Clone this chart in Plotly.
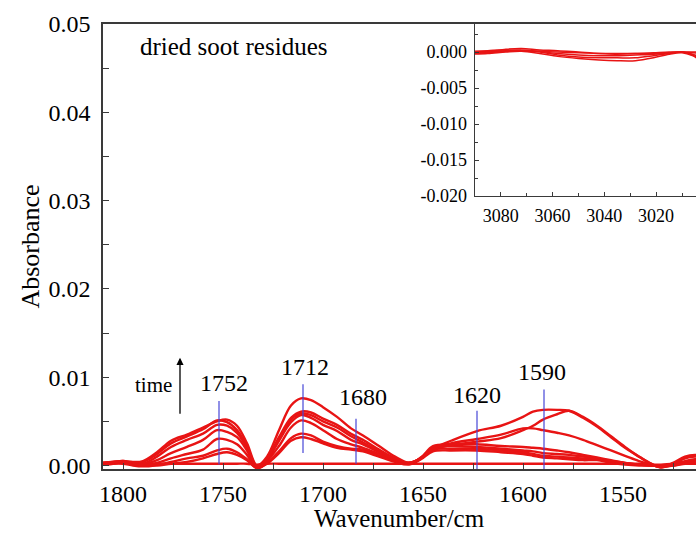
import plotly.graph_objects as go

# ---------------- data (absorbance in units of 1e-3) ----------------
wavenumber = [1812, 1805, 1800, 1795, 1790, 1783, 1776, 1768, 1760, 1753, 1748, 1743, 1738, 1733, 1728,
              1722, 1716, 1711, 1706, 1700, 1693, 1686, 1680, 1672, 1664, 1657, 1651, 1645, 1636, 1623,
              1611, 1600, 1595, 1590, 1583, 1577, 1570, 1563, 1556, 1549, 1542, 1536, 1531, 1525, 1519,
              1514, 1508]

spec_0 = [0.2, 0.3, 0.3, 0.2, 0.2, 0.2, 0.2, 0.2, 0.2, 0.2, 0.2, 0.2, 0.2, 0.1, 0.2,
          0.2, 0.2, 0.2, 0.2, 0.2, 0.2, 0.2, 0.2, 0.2, 0.2, 0.2, 0.2, 0.2, 0.2, 0.2,
          0.2, 0.2, 0.2, 0.2, 0.2, 0.2, 0.2, 0.2, 0.2, 0.2, 0.2, 0.1, 0.1, 0.2, 0.2,
          0.2, 0.2]
spec_1 = [0.0, 0.2, 0.2, 0.0, -0.1, 0.0, 0.2, 0.4, 0.8, 1.3, 1.5, 1.2, 0.6, -0.3, 0.2,
          1.4, 2.8, 3.2, 3.0, 2.5, 2.0, 1.8, 1.6, 1.0, 0.4, 0.1, 0.7, 1.6, 1.7, 1.7,
          1.5, 1.3, 1.1, 0.9, 0.8, 0.7, 0.6, 0.6, 0.3, 0.1, 0.0, 0.0, 0.0, 0.0, 0.2,
          0.3, 0.3]
spec_2 = [0.1, 0.2, 0.3, 0.1, 0.0, 0.1, 0.4, 0.8, 1.1, 1.7, 1.9, 1.5, 0.7, -0.3, 0.3,
          1.6, 3.1, 3.6, 3.4, 2.7, 2.2, 1.9, 1.8, 1.1, 0.5, 0.2, 0.8, 1.8, 1.9, 1.9,
          1.7, 1.5, 1.3, 1.1, 1.0, 0.9, 0.8, 0.7, 0.4, 0.2, 0.1, 0.0, 0.0, 0.0, 0.3,
          0.4, 0.4]
spec_3 = [0.1, 0.3, 0.3, 0.1, 0.0, 0.3, 0.8, 1.3, 1.8, 3.0, 2.9, 2.4, 1.2, -0.3, 0.5,
          2.2, 4.3, 5.1, 4.8, 4.0, 3.0, 2.4, 2.0, 1.3, 0.6, 0.2, 0.9, 2.0, 2.2, 2.1,
          1.9, 1.7, 1.6, 1.4, 1.3, 1.2, 1.0, 0.8, 0.5, 0.3, 0.1, 0.0, -0.1, 0.0, 0.4,
          0.6, 0.5]
spec_4 = [0.2, 0.3, 0.4, 0.2, 0.1, 0.6, 1.4, 2.1, 2.9, 4.0, 3.8, 3.2, 1.7, -0.2, 0.6,
          2.8, 4.9, 5.7, 5.4, 4.6, 3.9, 2.9, 2.4, 1.5, 0.7, 0.2, 0.9, 2.2, 2.4, 2.4,
          2.2, 2.1, 2.0, 1.9, 1.7, 1.5, 1.2, 0.9, 0.6, 0.3, 0.1, 0.0, -0.1, 0.1, 0.5,
          0.7, 0.6]
spec_5 = [0.2, 0.4, 0.4, 0.3, 0.2, 1.0, 2.1, 2.9, 3.6, 4.6, 4.5, 3.7, 2.0, -0.2, 0.7,
          3.0, 5.2, 5.9, 5.7, 5.0, 4.3, 3.3, 2.6, 1.6, 0.7, 0.3, 0.8, 1.9, 2.5, 3.0,
          3.5, 4.2, 4.2, 4.0, 3.7, 3.4, 2.9, 2.3, 1.7, 1.1, 0.5, 0.1, -0.2, 0.1, 0.8,
          1.0, 0.9]
spec_6 = [0.3, 0.4, 0.5, 0.3, 0.4, 1.3, 2.5, 3.3, 4.1, 5.1, 4.9, 4.0, 2.2, -0.1, 0.8,
          3.2, 5.4, 6.1, 6.0, 5.3, 4.6, 3.6, 2.9, 1.8, 0.8, 0.3, 0.8, 1.8, 2.3, 2.7,
          3.1, 4.0, 4.5, 5.2, 5.8, 6.2, 5.5, 4.5, 3.3, 2.1, 1.0, 0.2, -0.2, 0.2, 0.9,
          1.1, 1.0]
spec_7 = [0.3, 0.4, 0.5, 0.4, 0.5, 1.5, 2.8, 3.5, 4.3, 5.0, 5.2, 4.5, 2.5, 0.0, 1.0,
          4.0, 6.8, 7.6, 7.4, 6.6, 5.5, 4.2, 3.4, 2.2, 1.0, 0.3, 0.8, 1.9, 2.8, 3.9,
          4.5, 5.5, 6.1, 6.3, 6.3, 6.2, 5.4, 4.4, 3.2, 2.0, 1.0, 0.2, -0.2, 0.3, 1.0,
          1.2, 1.1]
spectra = [spec_0, spec_1, spec_2, spec_3, spec_4, spec_5, spec_6, spec_7]

# peak marker lines and labels
peak_labels = ["1752", "1712", "1680", "1620", "1590"]
peak_line_wn = [1752, 1710, 1683.5, 1623, 1589.5]
peak_line_top = [7.3, 9.2, 5.3, 6.2, 8.6]
peak_line_bottom = [0.1, 1.4, 0.2, -0.4, -0.4]
peak_label_wn = [1749.5, 1709, 1680, 1623, 1590.5]
peak_label_y = [9.3, 11.1, 7.7, 8.0, 10.6]

# inset (C-H region)
inset_wn = [3092, 3085, 3078, 3072, 3065, 3058, 3050, 3042, 3035, 3028, 3021, 3015, 3010, 3006, 3002]
inset_1 = [0.0, 0.1, 0.4, 0.5, 0.3, 0.2, 0.0, -0.2, -0.2, -0.2, -0.1, 0.0, 0.0, -0.1, -0.2]
inset_2 = [-0.1, 0.0, 0.2, 0.3, 0.1, -0.2, -0.4, -0.5, -0.5, -0.4, -0.3, -0.1, 0.0, -0.3, -0.8]
inset_3 = [-0.2, -0.1, 0.1, 0.2, 0.0, -0.4, -0.7, -0.8, -0.8, -0.8, -0.5, -0.2, 0.0, -0.4, -1.2]
inset_4 = [-0.3, -0.2, 0.0, 0.1, -0.2, -0.6, -0.9, -1.1, -1.2, -1.2, -0.8, -0.3, -0.1, -0.5, -1.4]
inset_5 = [0.1, 0.2, 0.3, 0.2, 0.1, 0.0, -0.1, -0.2, -0.3, -0.2, -0.2, -0.1, 0.0, 0.0, 0.0]
inset_series = [inset_1, inset_2, inset_3, inset_4, inset_5]

main_ytick_vals = [0.00, 0.01, 0.02, 0.03, 0.04, 0.05]
main_xtick_vals = [1800, 1750, 1700, 1650, 1600, 1550]
inset_ytick_vals = [0.000, -0.005, -0.010, -0.015, -0.020]
inset_ytick_text = ["0.000", "-0.005", "-0.010", "-0.015", "-0.020"]
inset_xtick_vals = [3080, 3060, 3040, 3020]

SCALE = 1e-3
FONT = "Liberation Serif, Times New Roman, serif"
RED = "rgb(232,20,20)"
BLUE = "rgb(70,70,215)"
AXC = "#3a3a3a"

fig = go.Figure()

for s in spectra:
    fig.add_trace(go.Scatter(x=wavenumber, y=[v * SCALE for v in s], mode="lines",
                             line=dict(color=RED, width=2.4, shape="spline", smoothing=1.0),
                             xaxis="x", yaxis="y", showlegend=False, hoverinfo="skip"))

for wn, top, bot in zip(peak_line_wn, peak_line_top, peak_line_bottom):
    fig.add_trace(go.Scatter(x=[wn, wn], y=[bot * SCALE, top * SCALE], mode="lines",
                             line=dict(color=BLUE, width=1.2),
                             xaxis="x", yaxis="y", showlegend=False, hoverinfo="skip"))

for s in inset_series:
    fig.add_trace(go.Scatter(x=inset_wn, y=[v * SCALE for v in s], mode="lines",
                             line=dict(color=RED, width=1.5, shape="spline", smoothing=0.9),
                             xaxis="x2", yaxis="y2", showlegend=False, hoverinfo="skip"))

annotations = []
for lab, x, y in zip(peak_labels, peak_label_wn, peak_label_y):
    annotations.append(dict(x=x, y=y * SCALE, xref="x", yref="y", text=lab, showarrow=False,
                            font=dict(family=FONT, size=24, color="black"),
                            xanchor="center", yanchor="middle"))
annotations.append(dict(x=1771.5, y=12.2 * SCALE, ax=1771.5, ay=5.7 * SCALE, xref="x", yref="y",
                        axref="x", ayref="y", text="", showarrow=True, arrowhead=2,
                        arrowsize=1.1, arrowwidth=1.3, arrowcolor="black"))
annotations.append(dict(x=1774.5, y=9.1 * SCALE, xref="x", yref="y", text="time", showarrow=False,
                        font=dict(family=FONT, size=21, color="black"),
                        xanchor="right", yanchor="middle"))
annotations.append(dict(x=1792.5, y=47.4 * SCALE, xref="x", yref="y", text="dried soot residues",
                        showarrow=False, font=dict(family=FONT, size=25, color="black"),
                        xanchor="left", yanchor="middle"))
annotations.append(dict(x=-0.123, y=0.5, xref="paper", yref="paper", text="Absorbance",
                        textangle=-90, showarrow=False, font=dict(family=FONT, size=26, color="black"),
                        xanchor="center", yanchor="middle"))
annotations.append(dict(x=0.50, y=-0.111, xref="paper", yref="paper", text="Wavenumber/cm",
                        showarrow=False, font=dict(family=FONT, size=25, color="black"),
                        xanchor="center", yanchor="middle"))

fig.update_layout(
    width=696, height=534,
    margin=dict(l=103, r=0, t=24, b=65),
    paper_bgcolor="white", plot_bgcolor="white",
    font=dict(family=FONT, color="black"),
    showlegend=False,
    annotations=annotations,
    xaxis=dict(domain=[0, 1], range=[1810, 1513.5], showgrid=False, zeroline=False,
               showline=True, linecolor=AXC, linewidth=1.5, mirror=True,
               ticks="inside", ticklen=6, tickwidth=1.2, tickcolor=AXC,
               tickvals=main_xtick_vals, tickfont=dict(family=FONT, size=24, color="black"),
               ticklabelstandoff=2,
               minor=dict(ticks="inside", ticklen=6, tickwidth=1.2, tickcolor=AXC, dtick=25, showgrid=False),
               anchor="y"),
    yaxis=dict(domain=[0, 1], range=[-0.0004, 0.05], showgrid=False, zeroline=False,
               showline=True, linecolor=AXC, linewidth=1.5, mirror=False,
               ticks="inside", ticklen=6, tickwidth=1.2, tickcolor=AXC,
               tickvals=main_ytick_vals, tickformat=".2f",
               tickfont=dict(family=FONT, size=24, color="black"),
               ticklabelstandoff=6,
               minor=dict(ticks="inside", ticklen=6, tickwidth=1.2, tickcolor=AXC, dtick=0.005, showgrid=False),
               anchor="x"),
    xaxis2=dict(domain=[0.627, 1.0], range=[3090, 3004.6], showgrid=False, zeroline=False,
                showline=True, linecolor=AXC, linewidth=1.2, mirror=False,
                ticks="inside", ticklen=4, tickwidth=1, tickcolor=AXC,
                tickvals=inset_xtick_vals, tickfont=dict(family=FONT, size=18, color="black"),
                ticklabelstandoff=3,
                minor=dict(ticks="inside", ticklen=3, tickwidth=1, tickcolor=AXC, dtick=10, showgrid=False),
                anchor="y2"),
    yaxis2=dict(domain=[0.6135, 1.0], range=[-0.020, 0.0039], showgrid=False, zeroline=False,
                showline=True, linecolor=AXC, linewidth=1.2, mirror=False,
                ticks="inside", ticklen=4, tickwidth=1, tickcolor=AXC,
                tickvals=inset_ytick_vals, ticktext=inset_ytick_text,
                tickfont=dict(family=FONT, size=18, color="black"),
                ticklabelstandoff=3,
                minor=dict(ticks="inside", ticklen=3, tickwidth=1, tickcolor=AXC, dtick=0.0025, showgrid=False),
                anchor="x2"),
)

fig.write_html("out.html", config={"displayModeBar": False},
               post_script="document.body.style.margin='0';document.body.style.overflow='hidden';")
